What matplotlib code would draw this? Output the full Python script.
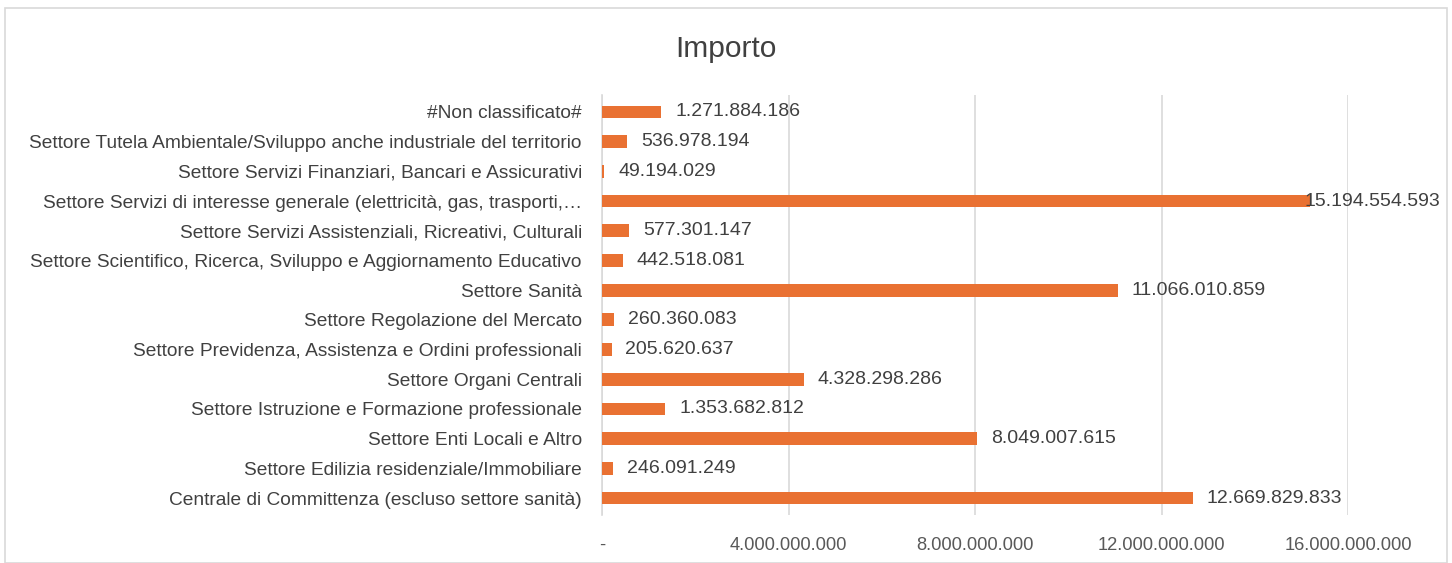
import matplotlib
matplotlib.use("Agg")
import matplotlib.pyplot as plt
from matplotlib.patches import Rectangle
from matplotlib.ticker import FixedLocator, FuncFormatter

categories = [
    "Centrale di Committenza (escluso settore sanità)",
    "Settore Edilizia residenziale/Immobiliare",
    "Settore Enti Locali e Altro",
    "Settore Istruzione e Formazione professionale",
    "Settore Organi Centrali",
    "Settore Previdenza, Assistenza e Ordini professionali",
    "Settore Regolazione del Mercato",
    "Settore Sanità",
    "Settore Scientifico, Ricerca, Sviluppo e Aggiornamento Educativo",
    "Settore Servizi Assistenziali, Ricreativi, Culturali",
    "Settore Servizi di interesse generale (elettricità, gas, trasporti,…",
    "Settore Servizi Finanziari, Bancari e Assicurativi",
    "Settore Tutela Ambientale/Sviluppo anche industriale del territorio",
    "#Non classificato#",
]
values = [
    12669829833, 246091249, 8049007615, 1353682812, 4328298286,
    205620637, 260360083, 11066010859, 442518081, 577301147,
    15194554593, 49194029, 536978194, 1271884186,
]
x_ticks = [0, 4000000000, 8000000000, 12000000000, 16000000000]
x_tick_labels = ["-", "4.000.000.000", "8.000.000.000", "12.000.000.000", "16.000.000.000"]
title = "Importo"

BAR = "#E97132"
TXT = "#404040"
GRID = "#D9D9D9"
font = ["Liberation Sans", "DejaVu Sans"]

def fmt(v):
    return f"{v:,}".replace(",", ".")

fig = plt.figure(figsize=(14.52, 5.63), dpi=100)
fig.patches.append(Rectangle((5/1452, 0), 1 - 10/1452, 1 - 8/563, transform=fig.transFigure,
                             fill=False, edgecolor="#D9D9D9", linewidth=1.2))
ax = fig.add_axes([602/1452, 1 - 515/563, 746/1452, 420/563])

y = list(range(len(categories)))
ax.barh(y, values, height=0.43, color=BAR, zorder=3)
ax.set_xlim(0, 16000000000)
ax.set_ylim(-0.57, len(categories) - 1 + 0.57)
ax.set_yticks(y)
ax.set_yticklabels(categories, fontsize=13.8, color=TXT, fontfamily=font)
ax.xaxis.set_major_locator(FixedLocator(x_ticks))
ax.xaxis.set_major_formatter(FuncFormatter(
    lambda v, p: x_tick_labels[x_ticks.index(int(round(v)))] if int(round(v)) in x_ticks else ""))
for lab in ax.get_xticklabels():
    lab.set_fontfamily(font)
ax.tick_params(axis="x", length=0, pad=16, labelsize=13.2, labelcolor="#595959")
ax.tick_params(axis="y", length=0, pad=14.5)
ax.grid(axis="x", color=GRID, linewidth=1.2, zorder=0)
for s in ["top", "right", "bottom"]:
    ax.spines[s].set_visible(False)
ax.spines["left"].set_color(GRID)
ax.spines["left"].set_linewidth(1.2)

xmax = ax.get_xlim()[1]
for yi, v in zip(y, values):
    off = -4 if v > 0.93 * xmax else 10
    ax.annotate(fmt(v), (v, yi), xytext=(off, 0), textcoords="offset points",
                ha="left", va="center", fontsize=14, color=TXT, fontfamily=font,
                annotation_clip=False, zorder=4)

fig.text(0.5, 1 - 49/563, title, ha="center", va="center", fontsize=21.5, color=TXT,
         fontfamily=font)

fig.savefig("out.png", dpi=100)
